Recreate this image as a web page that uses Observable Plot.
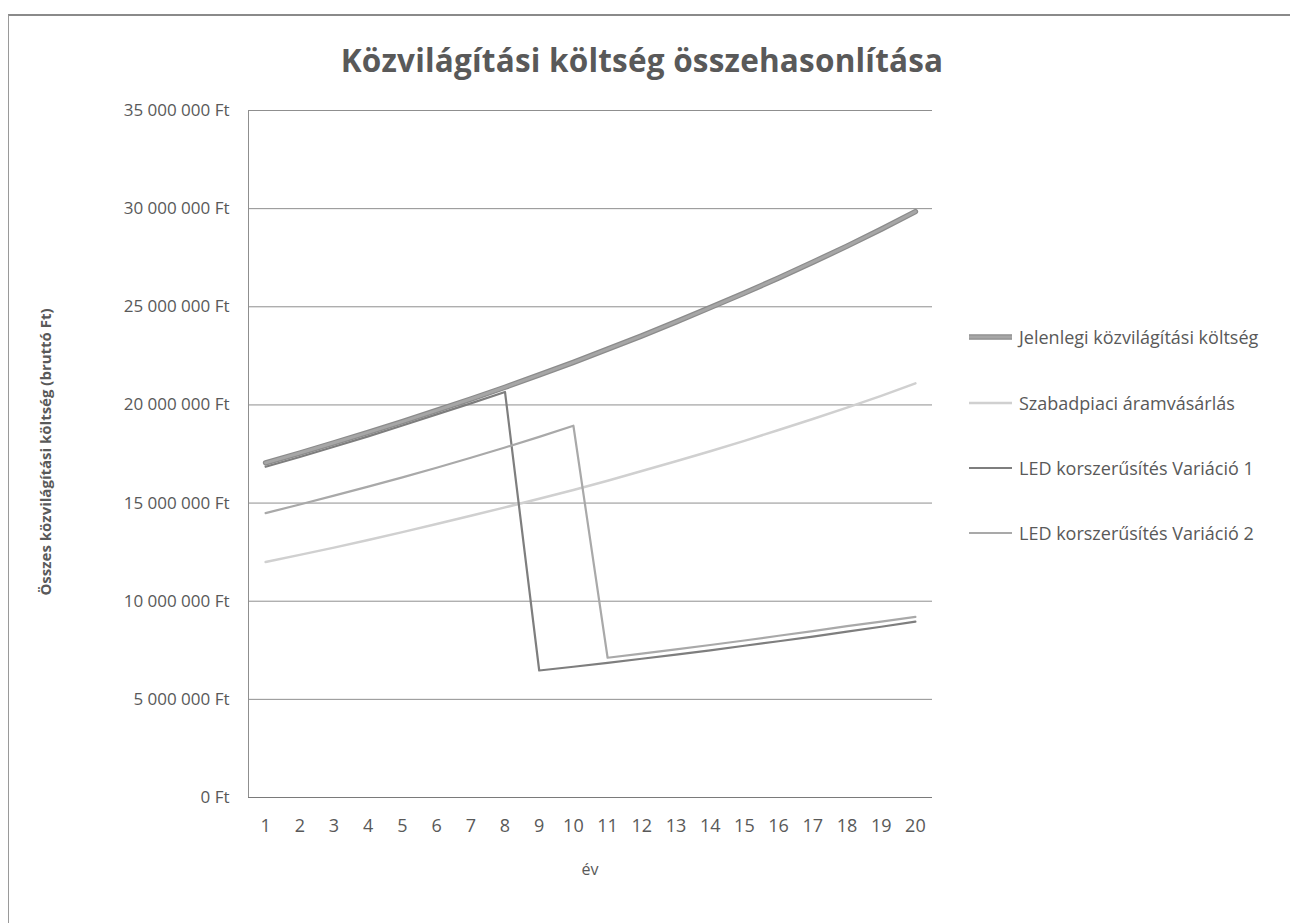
<!DOCTYPE html>
<html>
<head>
<meta charset="utf-8">
<script src="https://cdn.jsdelivr.net/npm/d3@7"></script>
<script src="https://cdn.jsdelivr.net/npm/@observablehq/plot@0.6"></script>
<style>
  html, body { margin: 0; padding: 0; background: #fff; }
  #wrap { position: relative; width: 1290px; height: 923px; overflow: hidden; font-family: "Open Sans", sans-serif; color: #595959; }
  #border { position: absolute; left: 8px; top: 14px; width: 1300px; height: 930px; border-top: 2px solid #8a8a8a; border-left: 1px solid #9a9a9a; box-sizing: border-box; }
  #title { position: absolute; left: 0; width: 1284px; top: 38px; text-align: center; font-family: "Open Sans", sans-serif; font-weight: bold; font-size: 31.5px; letter-spacing: 0.2px; color: #595959; white-space: nowrap; }
  #ylab { position: absolute; left: 45px; top: 452px; transform: translate(-50%, -50%) rotate(-90deg); font-weight: bold; font-size: 15px; white-space: nowrap; color: #595959; }
  #xlab { position: absolute; left: 590px; top: 869px; transform: translate(-50%, -50%); font-size: 16px; color: #595959; }
  #chart { position: absolute; left: 0; top: 0; }
  .leg { position: absolute; left: 968px; height: 22px; white-space: nowrap; font-size: 18px; color: #595959; display: flex; align-items: center; }
  .leg svg { margin-right: 4px; }
</style>
</head>
<body>
<div id="wrap">
  <div id="border"></div>
  <div id="chart"></div>
  <div id="title">Közvilágítási költség összehasonlítása</div>
  <div id="ylab">Összes közvilágítási költség (bruttó Ft)</div>
  <div id="xlab">év</div>
  <div id="legend"></div>
</div>
<script>
// ---- data (in Ft) ----
const years = [1,2,3,4,5,6,7,8,9,10,11,12,13,14,15,16,17,18,19,20];
const seriesNames = [
  "Jelenlegi közvilágítási költség",
  "Szabadpiaci áramvásárlás",
  "LED korszerűsítés Variáció 1",
  "LED korszerűsítés Variáció 2"
];
const jelenlegi   = [17.05e6,17.55e6,18.07e6,18.6e6,19.15e6,19.72e6,20.3e6,20.9e6,21.53e6,22.17e6,22.84e6,23.52e6,24.23e6,24.96e6,25.7e6,26.47e6,27.27e6,28.09e6,28.95e6,29.85e6];
const szabadpiaci = [12.0e6,12.36e6,12.73e6,13.12e6,13.52e6,13.93e6,14.35e6,14.78e6,15.22e6,15.67e6,16.14e6,16.63e6,17.13e6,17.64e6,18.17e6,18.72e6,19.28e6,19.86e6,20.46e6,21.1e6];
const led1        = [16.85e6,17.35e6,17.87e6,18.4e6,18.95e6,19.52e6,20.08e6,20.66e6,6.47e6,6.66e6,6.86e6,7.07e6,7.28e6,7.5e6,7.73e6,7.96e6,8.2e6,8.45e6,8.7e6,8.96e6];
const led2        = [14.49e6,14.93e6,15.38e6,15.84e6,16.31e6,16.8e6,17.31e6,17.83e6,18.37e6,18.94e6,7.12e6,7.33e6,7.55e6,7.77e6,8.0e6,8.24e6,8.48e6,8.73e6,8.96e6,9.2e6];
const yTicks = [0,5e6,10e6,15e6,20e6,25e6,30e6,35e6];

// colours / widths (greyscale like the scan)
const colors = ["#a6a6a6", "#d0d0d0", "#7e7e7e", "#a9a9a9"];
const widths = [3, 2.5, 2.2, 2.2];

const valueArrays = [jelenlegi, szabadpiaci, led1, led2];
const table = [];
seriesNames.forEach((s, i) => years.forEach((yr, j) => table.push({series: s, year: yr, value: valueArrays[i][j]})));
const bySeries = s => table.filter(d => d.series === s);

const fmt = v => d3.format(",")(v).replace(/,/g, " ") + " Ft";

const chart = Plot.plot({
  width: 1290,
  height: 923,
  marginLeft: 248,
  marginRight: 358,
  marginTop: 110,
  marginBottom: 126,
  style: {fontFamily: "'Open Sans', sans-serif", color: "#595959", background: "transparent"},
  x: {domain: [0.5, 20.5]},
  y: {domain: [0, 35e6]},
  marks: [
    Plot.gridY(yTicks, {stroke: "#8f8f8f", strokeOpacity: 1, strokeWidth: 1}),
    Plot.ruleX([0.5], {stroke: "#8f8f8f", strokeWidth: 1}),
    Plot.ruleY([0], {stroke: "#7a7a7a", strokeWidth: 1.2}),
    Plot.axisY(yTicks, {tickSize: 0, tickPadding: 19, tickFormat: fmt, fontSize: 17, label: null, fill: "#595959", style: "letter-spacing:0.6px"}),
    Plot.axisX(years, {tickSize: 0, tickPadding: 22, fontSize: 18, label: null, fill: "#595959"}),
    // Jelenlegi: thick line with darker edge
    Plot.line(bySeries(seriesNames[0]), {x: "year", y: "value", stroke: "#8c8c8c", strokeWidth: 5.5}),
    Plot.line(bySeries(seriesNames[0]), {x: "year", y: "value", stroke: colors[0], strokeWidth: widths[0]}),
    Plot.line(bySeries(seriesNames[1]), {x: "year", y: "value", stroke: colors[1], strokeWidth: widths[1]}),
    Plot.line(bySeries(seriesNames[2]), {x: "year", y: "value", stroke: colors[2], strokeWidth: widths[2]}),
    Plot.line(bySeries(seriesNames[3]), {x: "year", y: "value", stroke: colors[3], strokeWidth: widths[3]})
  ]
});
document.getElementById("chart").appendChild(chart);

// legend
const legTops = [326, 392, 457, 522];
const legend = document.getElementById("legend");
seriesNames.forEach((s, i) => {
  const row = document.createElement("div");
  row.className = "leg";
  row.style.top = legTops[i] + "px";
  const outer = i === 0 ? `<line x1="1" y1="11" x2="44" y2="11" stroke="#8c8c8c" stroke-width="5.5"/>` : "";
  row.innerHTML = `<svg width="47" height="22">${outer}<line x1="1" y1="11" x2="44" y2="11" stroke="${colors[i]}" stroke-width="${widths[i]}"/></svg><span>${s}</span>`;
  legend.appendChild(row);
});
</script>
</body>
</html>
